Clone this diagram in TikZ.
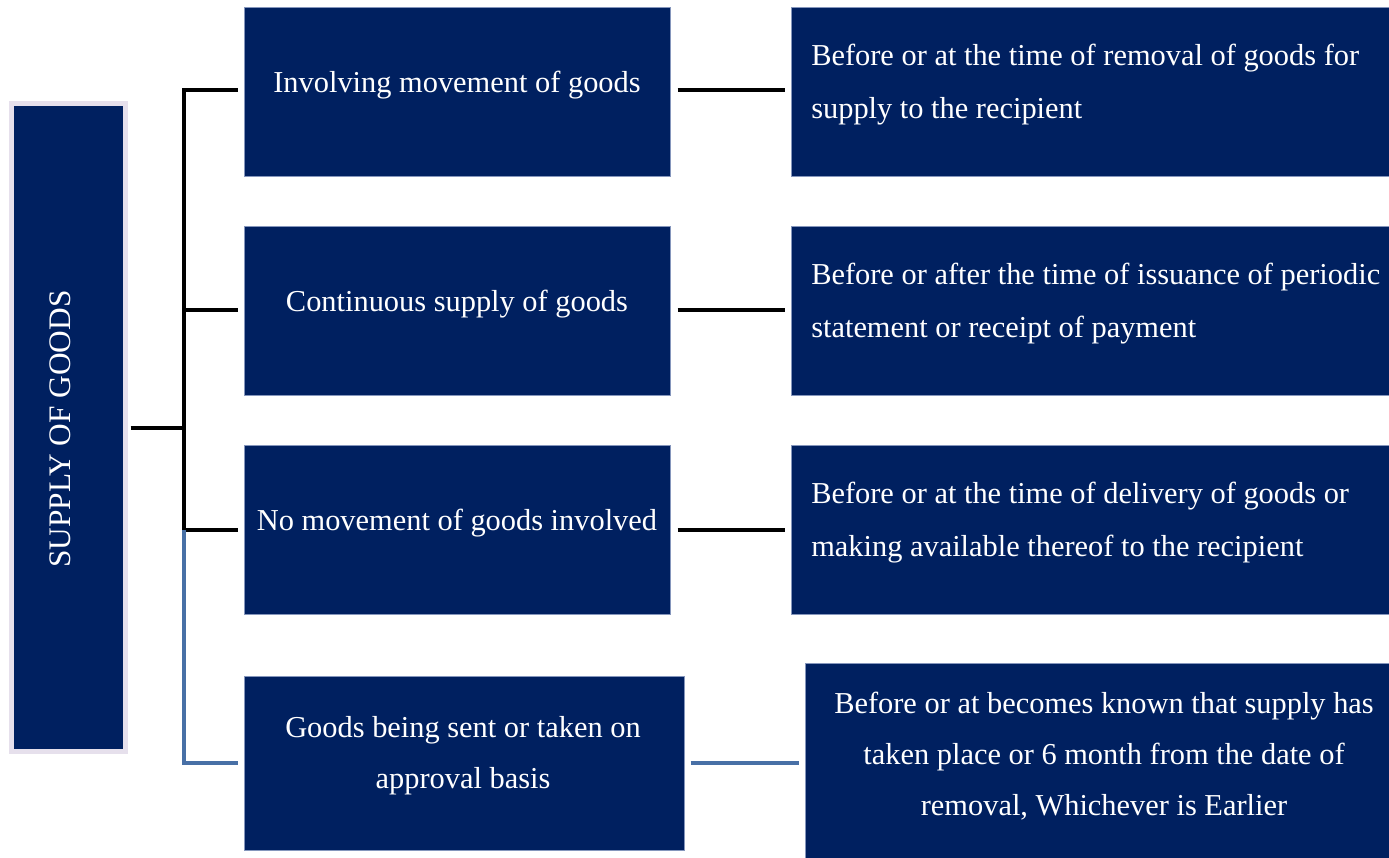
\documentclass[tikz,border=0pt]{standalone}
\usepackage{fontspec}
\setmainfont{Liberation Serif}
\usetikzlibrary{fit}
\definecolor{navy}{HTML}{002060}
\definecolor{lav}{HTML}{E6E0EC}
\definecolor{boxedge}{HTML}{8596BC}
\definecolor{linkblue}{RGB}{72,112,166}
\tikzset{
  box/.style={draw=boxedge, line width=0.75pt, fill=navy, inner sep=0pt},
  lbox/.style={draw=lav, line width=3.75pt, fill=navy, inner sep=0pt},
  txt/.style={text=white, inner sep=0pt, font=\fontsize{22.8}{39.75}\selectfont},
  txtb/.style={text=white, inner sep=0pt, font=\fontsize{22.8}{38.5}\selectfont},
  blk/.style={draw=black, line width=3pt},
  bl/.style={draw=linkblue, line width=3pt},
}
\begin{document}
\begin{tikzpicture}[x=0.75pt,y=-0.75pt]
\useasboundingbox (0,0) rectangle (1389,857);
% left main box
\node[lbox, fit={(11.5,103.5) (125.5,751.5)}] (L) {};
\node[txt, rotate=90, font=\fontsize{23.5}{28}\selectfont] (Lt) at (60,429) {SUPPLY OF GOODS};
% middle boxes
\node[box, fit={(244,7) (670,176)}] (m1) {};
\node[box, fit={(244,226) (670,395)}] (m2) {};
\node[box, fit={(244,445) (670,614)}] (m3) {};
\node[box, fit={(244,676) (684,850)}] (m4) {};
% right boxes
\node[box, fit={(791,7) (1392,176)}] (r1) {};
\node[box, fit={(791,226) (1392,395)}] (r2) {};
\node[box, fit={(791,445) (1392,614)}] (r3) {};
\node[box, fit={(805,663) (1392,860)}] (r4) {};
% texts
\node[txt] (m1t) at (457,85) {Involving movement of goods};
\node[txt] (m2t) at (457,304) {Continuous supply of goods};
\node[txt] (m3t) at (457,523) {No movement of goods involved};
\node[txtb, align=center] (m4t) at (463,756) {Goods being sent or taken on\\approval basis};
\node[txt, align=left, anchor=west] (r1t) at (811,84.5) {Before or at the time of removal of goods for\\supply to the recipient};
\node[txt, align=left, anchor=west] (r2t) at (811,303.5) {Before or after the time of issuance of periodic\\statement or receipt of payment};
\node[txt, align=left, anchor=west] (r3t) at (811,523) {Before or at the time of delivery of goods or\\making available thereof to the recipient};
\node[txtb, align=center] (r4t) at (1104,756) {Before or at becomes known that supply has\\taken place or 6 month from the date of\\removal, Whichever is Earlier};
% connector points
\coordinate (hub) at (184,428);
\coordinate (t1) at (184,90);
\coordinate (t2) at (184,310);
\coordinate (t3) at (184,530);
\coordinate (t4) at (184,763);
% left connectors
\draw[blk, shorten <=2pt] (L.east |- hub) -- (hub);
\draw[blk, shorten >=4.5pt] (t3) -- (t1) -- (t1 -| m1.west);
\draw[blk, shorten >=4.5pt] (t2) -- (t2 -| m2.west);
\draw[blk, shorten >=4.5pt] (t3) -- (t3 -| m3.west);
\draw[bl, shorten >=4.5pt] (t3) -- (t4) -- (t4 -| m4.west);
% right connectors
\draw[blk, shorten <=5.25pt, shorten >=4.5pt] (t1 -| m1.east) -- (t1 -| r1.west);
\draw[blk, shorten <=5.25pt, shorten >=4.5pt] (t2 -| m2.east) -- (t2 -| r2.west);
\draw[blk, shorten <=5.25pt, shorten >=4.5pt] (t3 -| m3.east) -- (t3 -| r3.west);
\draw[bl, shorten <=4.5pt, shorten >=4.5pt] (t4 -| m4.east) -- (t4 -| r4.west);
\end{tikzpicture}
\end{document}
